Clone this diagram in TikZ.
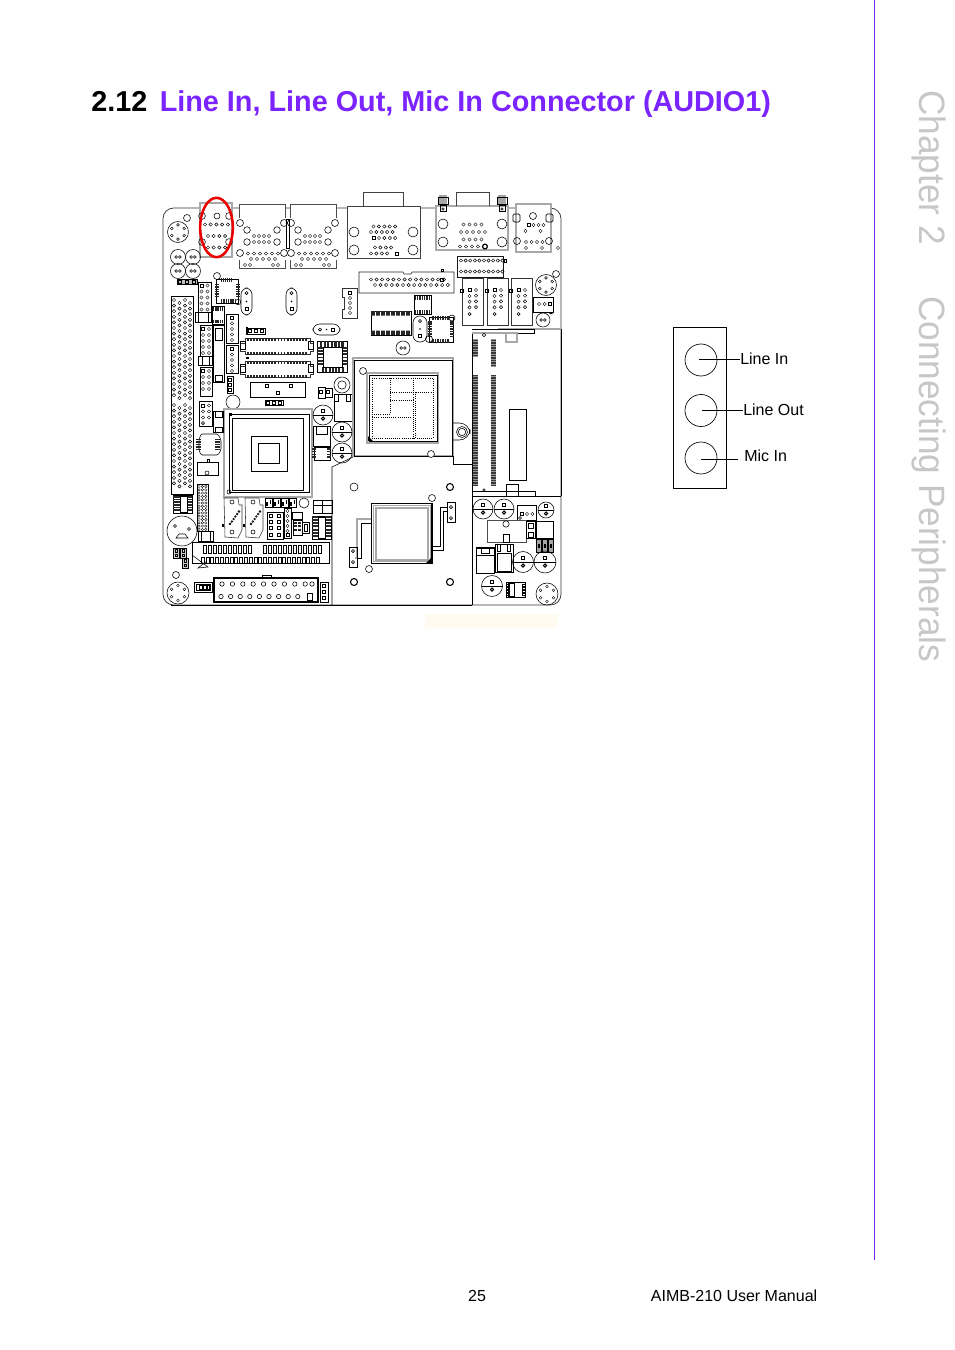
\documentclass[tikz,border=0pt]{standalone}
\usepackage{fontspec}
\usetikzlibrary{shapes.geometric}
\setmainfont{Liberation Sans}
\definecolor{ttl}{HTML}{7B24FF}
\definecolor{cream}{HTML}{FFFBF0}
\definecolor{lg}{HTML}{A8A8A8}
\newcommand\rr[4]{\draw ({#1},{#2}) rectangle ({#3},{#4});}
\newcommand\gr[4]{\draw[lg,line width=.9] ({#1},{#2}) rectangle ({#3},{#4});}
\newcommand\cc[3]{\draw ({#1},{#2}) circle (#3);}
\newcommand\prow[4]{\foreach \ii in {1,...,#4}{\draw[line width=.33pt] ({#1+(\ii-1)*#3},{#2}) circle (1.65);}}
\newcommand\pcol[4]{\foreach \ii in {1,...,#4}{\draw[line width=.33pt] ({#1},{#2+(\ii-1)*#3}) circle (1.65);}}
\newcommand\sq[2]{\draw[line width=.33pt] ({#1-1.7},{#2-1.7}) rectangle ({#1+1.7},{#2+1.7});}
\newcommand\hdr[5]{\sq{#1}{#2}\pcol{#1}{#2+#4}{#4}{\numexpr#5-1\relax}\pcol{#1+#3}{#2}{#4}{#5}}
\newcommand\din[3]{\draw (#1,#2) circle (#3);\foreach \a in {30,90,...,330}{\draw[line width=.33pt] (#1,#2) ++(\a:#3*.68) circle (1.4);}}
\newcommand\ecap[3]{\draw (#1,#2) circle (#3);\draw ({#1-#3},#2) -- ({#1+#3},#2);\draw ({#1-1.4},{#2-5.5}) rectangle ({#1+1.4},{#2-2.5});\draw[line width=.7] (#1,{#2+3.5}) circle (1.6);}
\newcommand\scap[3]{\draw (#1,#2) circle (#3);\draw[line width=.4pt] ({#1-1.8},#2) circle (1.4) ({#1+1.8},#2) circle (1.4);}
\newcommand\xtal[4]{\draw[rounded corners=5] (#1,#2) rectangle (#3,#4);\fill ({(#1+#3)/2},{(#2+#4)/2}) circle (.8);\cc{(#1+#3)/2}{#2+5}{1.6}\sq{(#1+#3)/2}{#4-6}}
\newcommand\teeth[5]{\foreach \ii in {0,...,#5}{\fill[black!85] ({#1+\ii*(#3-#1)/(#5+1)},#2) rectangle ({#1+(\ii+.62)*(#3-#1)/(#5+1)},#4);}}
\newcommand\steeth[5]{\foreach \ii in {0,...,#5}{\fill[black!85] (#1,{#2+\ii*(#4-#2)/(#5+1)}) rectangle (#3,{#2+(\ii+.62)*(#4-#2)/(#5+1)});}}
\begin{document}
\begin{tikzpicture}[x=.75pt,y=-.75pt,line width=.4pt,
  board/.style={line width=.42pt},
  jack/.style={circle,draw,line width=.5pt,minimum size=24pt,inner sep=0pt},
  lbl/.style={font=\fontsize{12}{14}\selectfont,inner sep=0pt,anchor=west},
  lead/.style={line width=.5pt}]
\useasboundingbox (0,0) rectangle (954,1350);
\fill[white] (0,0) rectangle (954,1350);
% page furniture
\draw[ttl,line width=.75pt] (874.5,0) -- (874.5,1260);
\node[anchor=base west,inner sep=0pt,font=\fontsize{21.6}{26}\selectfont\bfseries] (num) at (91,111) {2.12};
\node[anchor=base west,inner sep=0pt,font=\fontsize{21.6}{26}\selectfont\bfseries,text=ttl] (ttlx) at (159.5,111) {Line In, Line Out, Mic In Connector (AUDIO1)};
\node[anchor=base west,inner sep=0pt,rotate=-90,font=\fontsize{27.5}{32}\selectfont,text=black!22] (ch) at (919,90) {\scalebox{.96}[1]{Chapter 2}};
\node[anchor=base west,inner sep=0pt,rotate=-90,font=\fontsize{27.5}{32}\selectfont,text=black!22] (cp) at (919,296) {\scalebox{.96}[1]{Connecting Peripherals}};
\node[anchor=base,inner sep=0pt,font=\fontsize{12}{14}\selectfont] (pg) at (477,1301) {25};
\node[anchor=base east,inner sep=0pt,font=\fontsize{12}{14}\selectfont] (mn) at (817.5,1301) {AIMB-210 User Manual};
\fill[cream] (425,614) rectangle (558,628);

\begin{scope}[board]
% board outline
\draw[line width=.55pt,black!80,rounded corners=8] (163,208) rectangle (561,605);
\fill[white] (200,203) rectangle (232,257) (239,204) rectangle (285,268) (290,204) rectangle (337,268);
% ---- audio
\gr{200}{203}{232}{257}
\cc{202}{216}{3.4}\cc{229}{216}{3.4}\cc{217}{216}{3}\cc{202}{242}{3.4}\cc{229}{242}{3.4}
\prow{205}{224.5}{5.7}{5}\prow{208}{236}{5.7}{4}\prow{208}{247.5}{5.7}{4}
% ---- LAN
\foreach \dx in {0,51}{
 \begin{scope}[xshift=\dx*.75pt]
 \draw[black!70] (239,218) -- (239,204) -- (285,204) -- (285,218) (239,260) -- (239,268) -- (285,268) -- (285,260);
 \cc{240}{223}{3.5}\cc{284}{223}{3.5}\cc{240}{253}{3.5}\cc{284}{253}{3.5}
 \cc{247}{230}{3.3}\cc{277}{230}{3.3}\cc{247}{242}{3.3}\cc{277}{242}{3.3}
 \prow{254}{236}{5}{4}\prow{254}{242}{5}{4}
 \prow{248}{253.5}{6}{6}\prow{251}{259}{6}{5}
 \prow{245}{265}{5}{2}\prow{273}{265}{5}{2}
 \end{scope}}
\rr{286}{219}{289}{248}
% ---- VGA
\fill[white] (347,206) rectangle (420,258) (363,192) rectangle (403,206);
\draw[black!75] (347,258) rectangle (420,206);
\draw[black!75] (363,206) -- (363,192) -- (403,192) -- (403,206);
\cc{354}{232}{5}\cc{413}{232}{5}\cc{354}{250}{5}\cc{413}{250}{5}
\prow{373.5}{226.5}{5.4}{5}\prow{371}{232}{5.4}{5}\sq{373.5}{238}\prow{379}{238}{5.4}{4}
\prow{375}{247.5}{5.4}{4}\prow{371}{253.5}{5.4}{4}\sq{396.5}{253.5}
% ---- COM
\fill[white] (436,206) rectangle (508,250) (456,192) rectangle (489,206);
\gr{436}{206}{508}{250}
\draw[black!75] (456,206) -- (456,192) -- (489,192) -- (489,206);
\foreach \xx in {443,502}{\fill[black!35] (\xx-4,195) rectangle (\xx+4,205);\draw (\xx-5,197) rectangle (\xx+5,204);\rr{\xx-3}{205}{\xx+3}{211}\cc{\xx}{209}{1.2}}
\cc{443}{224}{5}\cc{502}{224}{5}\cc{443}{242}{5}\cc{502}{242}{5}
\prow{463.5}{224.5}{6}{4}\prow{461}{232}{6}{5}\prow{463.5}{239.5}{6}{4}\prow{460}{246.5}{6}{4}
\draw[line width=.9] (485,246.5) circle (2.4);
% ---- right jack
\fill[white] (516,204) rectangle (551,252);
\gr{516}{204}{551}{252}
\cc{533}{216}{3.5}
\draw[line width=.6,rounded corners=1] (513,214) rectangle (520,222);\draw[line width=.6,rounded corners=1] (546,214) rectangle (553,222);
\cc{517}{241}{3.5}\cc{549}{241}{3.5}
\sq{529}{225}\prow{533.5}{225}{5}{3}\prow{525.5}{231}{15}{2}\prow{526}{242}{5.5}{4}\prow{526}{248}{16}{3}
% ---- left round / small caps
\din{178}{232}{10.5}\cc{187}{218}{3.5}
\scap{178}{257}{7.5}\scap{193}{257}{7.5}\scap{178}{271}{7.5}\scap{193}{271}{7.5}
\draw[fill=black!25] (177,279) rectangle (197,284);\foreach \xx in {180,187,194}{\sq{\xx}{281.5}}
% ---- left long connector
\rr{171}{296}{193}{494}
\foreach \yy in {0,...,17}{\prow{174}{300+\yy*5.6}{6}{1}\prow{179.5}{303+\yy*5.6}{6}{1}\prow{185}{300+\yy*5.6}{6}{1}\prow{190}{303+\yy*5.6}{6}{1}}
\foreach \yy in {0,...,14}{\prow{174}{405+\yy*5.6}{6}{1}\prow{179.5}{408+\yy*5.6}{6}{1}\prow{185}{405+\yy*5.6}{6}{1}\prow{190}{408+\yy*5.6}{6}{1}}
% ---- left column headers
\rr{198}{282}{211}{312}\hdr{201.5}{285.5}{6}{6}{5}
\draw[line width=.6] (195,312) rectangle (211,322);\rr{198}{312}{208}{322}
\rr{200}{325}{212}{356}\hdr{203}{329}{6}{6}{5}
\draw[line width=.6] (198,356) rectangle (212,365);\rr{202}{356}{209}{365}
\rr{200}{367}{212}{396}\hdr{203}{371}{6}{6}{4}
\rr{212}{306}{224}{324}\rr{213}{325}{224}{382}\rr{215}{328}{222}{340}\rr{215}{375}{222}{381}
\teeth{213}{307}{224}{311}{4}\teeth{213}{320}{224}{323}{4}
\draw[line width=.7] (226,314) rectangle (238,343);\sq{232}{318}\pcol{232}{323.5}{5.5}{4}
\draw[line width=.7] (226,345) rectangle (238,373);\sq{232}{349}\pcol{232}{354.5}{5.5}{4}
\rr{227}{376}{233}{393}\sq{230}{380}\sq{230}{385}\sq{230}{390}
% ---- chip1
\rr{216}{279}{238}{303}
\cc{217}{276}{3.5}\cc{238}{302}{2.8}
\teeth{221}{278}{233}{282}{5}\teeth{221}{299}{237}{303}{6}
\steeth{215}{284}{219}{298}{5}\steeth{236}{284}{240}{298}{5}
\xtal{241}{288}{252}{315}\xtal{286}{288}{297}{315}
% ---- connector
\draw[black!80] (342,288) -- (357,288) -- (357,318) -- (342,318) -- (342,309) -- (344,309) -- (344,297) -- (342,297) -- cycle;
\sq{350}{292.5}\pcol{350}{298}{5}{4}
% ---- horizontal oval
\draw[rounded corners=5] (313,324) rectangle (340,335);\fill (326.5,329.5) circle (.8);\cc{320}{329.5}{1.6}\sq{333}{329.5}
\rr{247}{328}{265}{334}\foreach \xx in {250,256,262}{\sq{\xx}{331}}\fill (246,327) rectangle (248,335);
% ---- sockets
\foreach \yy in {0,23}{
\begin{scope}[yshift=-\yy*.75pt]
\draw[black!80] (245,338) -- (310,338) -- (310,343) -- (313,343) -- (313,351) -- (310,351) -- (310,354) -- (245,354) -- (245,351) -- (240,351) -- (240,343) -- (245,343) -- cycle;
\rr{240}{341}{245}{349}\rr{308}{341}{313}{349}
\teeth{247}{337.5}{308}{341}{19}\teeth{247}{351.5}{308}{355}{19}
\end{scope}}
\fill (246,357) rectangle (249,359);
\rr{250}{382}{305}{397}\rr{265}{384}{268}{387}\rr{289}{384}{292}{387}\rr{276}{391}{279}{394}
\rr{265}{400}{283}{405}\foreach \xx in {268,274,280}{\sq{\xx}{402.5}}
% ---- chip2
\draw (317,341) rectangle (347,372);
\teeth{320}{341}{345}{347}{6}\teeth{322}{367}{345}{372}{6}
\steeth{317}{347}{323}{366}{5}\steeth{342}{347}{348}{366}{5}
\rr{323}{347}{342}{367}
% ---- crystal can
\cc{342}{385}{8}\cc{342}{385}{4.2}
\rr{334}{394}{354}{421}\rr{334}{394}{338}{401}\rr{346}{394}{350}{401}
\rr{318}{387}{325}{398}\rr{325}{388}{332}{397}\sq{321}{392}\sq{328}{392}
% ---- IDC etc
\draw[black!85] (359,272) -- (403,272) -- (404,274) -- (411,274) -- (412,272) -- (454,272) -- (454,293) -- (359,293) -- cycle;
\prow{371}{279.5}{5.6}{14}\prow{375}{285}{5.6}{14}\sq{442}{279.5}
\rr{441}{269}{443}{271}
\draw[black!90] (457,256) rectangle (503,277);\prow{461}{260.5}{4.6}{10}\prow{461}{271.5}{4.6}{10}\rr{504}{259}{506}{262}
\foreach \xx in {462,487,511}{
\draw[black!80] (\xx,278) rectangle (\xx+21.5,325);
\sq{\xx+7.5}{290}\pcol{\xx+7.5}{296}{5.7}{3}\pcol{\xx+14}{290}{5.7}{4}\cc{\xx+7.5}{314}{1.6}
\rr{\xx-1.5}{289}{\xx+1}{292}}
% ---- black chip row
\rr{371}{311}{411}{335}\fill[black!85] (371,311) rectangle (411,315.5) (371,330.5) rectangle (411,335);
\foreach \xx in {375,380,...,410}{\fill[white] (\xx,311.5) rectangle (\xx+.7,335);}
\fill[white] (372,316) rectangle (410,330);
\rr{414}{295}{431}{314}\teeth{414.5}{295.5}{431}{300}{6}\teeth{414.5}{310}{431}{314}{6}
\xtal{413}{316}{427}{342}
\rr{429}{317}{453}{342}
\teeth{432}{316}{450}{320}{6}\teeth{432}{339}{450}{343}{6}
\steeth{428}{321}{432}{338}{6}\steeth{450}{321}{454}{338}{6}
\cc{452}{318}{3}\cc{429}{339}{3.5}
\scap{403}{348}{7}
% ---- right of upper
\din{546}{285}{10.5}\cc{556}{274}{3.5}
\rr{533}{297}{553}{312}\prow{539}{304}{5.5}{2}\sq{550}{304}\fill (551,312) -- (553,314) -- (549,314) -- cycle;
\scap{543}{320}{7}
% ---- SODIMM
\draw[lg,line width=.9] (498,329) -- (561,329);
\draw (472,333) -- (472,496) -- (561,496) (561,329) -- (561,496);
\draw[line width=.5] (472,329) -- (534,329) -- (534,333) -- (517,333);
\draw[lg,line width=.9] (472,333) -- (506,333);
\draw[lg,line width=.9] (506,333) -- (506,342) -- (517,342) -- (517,333) -- cycle;
\cc{484}{335}{1.8}
\foreach \xs/\ya/\yb/\yc/\yd in {472.5/339/357/375/486,491/339/367/375/486}{
 \fill[black!78] (\xs,\ya) rectangle (\xs+5,\yd);
 \foreach \yy in {339,341.5,...,486}{\draw[black!40,line width=.25pt] (\xs,\yy) -- (\xs+5,\yy);}
 \fill[white] (\xs,\yb) rectangle (\xs+5,\yc);}
\rr{509}{409}{526}{480}
\rr{506}{484}{518}{496}
\draw[line width=.5] (472,491) -- (535,491) -- (535,496);
\cc{484}{490}{1.3}
% ---- north bridge
\gr{353}{358}{453}{456}
\rr{354}{360}{452}{456}
\gr{367}{373}{438}{443}
\draw[line width=.5] (369,375) rectangle (437,441);
\draw[densely dotted,line width=.6] (372,378) rectangle (433,438);
\draw[densely dotted,line width=.6] (390,378) -- (390,414) -- (372,414) (390,400) -- (413,400) -- (413,378) (390,392) -- (433,392)
 (372,417) -- (413,417) -- (413,438) (413,400) -- (413,417) (415,392) -- (415,438);
\fill (368,441) -- (373,441) -- (368,436) -- cycle;
\cc{363}{371}{3.5}\fill[white] (431,454) circle (3.5);\cc{431}{454}{3.5}
\draw[rounded corners=8] (453,423) -- (470,423) -- (470,440) -- (453,440);
\cc{462}{432}{5.5}\cc{462}{432}{3.7}
\draw (453,456) -- (453,464) -- (472,464);
% ---- lower bay
\draw (332,605) -- (332,467) -- (353,457);
\draw (472,496) -- (472,605);
\draw[line width=.55pt] (171,605) -- (472,605);
\draw[line width=.8] (450,487) circle (3.5) (450,582) circle (3.5) (354,582) circle (3.5);
\cc{354}{487}{4}
\cc{432}{498}{3.5}\fill[white] (369,569) circle (3.5);\cc{369}{569}{3.5}
\draw[line width=.6] (371,503) rectangle (432,563);
\draw[lg,line width=.9] (376,508) rectangle (428,560);
\draw[lg,line width=.7] (373,505) rectangle (430,561);
\draw[line width=.7] (431,503) -- (431,563) -- (372,563);
\fill (426,563) -- (431,563) -- (431,558) -- cycle;
\draw[lg,line width=.8] (371,519) -- (357,519) -- (357,558) -- (355,558);
\draw (371,523) -- (361,523) -- (361,558) -- (357,558);
\draw[line width=.7] (432,550) -- (443,550) -- (443,511) -- (447,511);
\draw (432,546) -- (440,546) -- (440,507) -- (447,507);
\rr{349}{547}{357}{567}\cc{353}{551}{1.6}\cc{353}{562}{1.6}
\rr{447}{502}{455}{522}\cc{451}{507}{1.6}\cc{451}{518}{1.6}
% ---- lower right
\ecap{483}{509}{10}\ecap{504}{509}{10}
\rr{517}{505}{536}{520}\sq{522}{514}\prow{527}{514}{5.5}{2}\cc{520}{518}{1.5}
\ecap{546}{510}{8}
\draw[black!70,fill=white] (487,520) rectangle (526,542);\cc{506}{524}{3.2}\rr{503}{534}{509}{542}
\rr{526}{521}{535}{538}\rr{528}{523}{533}{528}\rr{528}{532}{533}{537}
\draw[line width=.6] (536,521) rectangle (553,538);
\foreach \xx in {536,542,548}{\draw[fill=black!35] (\xx,539) rectangle (\xx+5.5,552);\fill (\xx+1.7,543.5) rectangle (\xx+3.7,547.5);}
\draw[line width=.6] (476,547) rectangle (494,573);\rr{476}{548}{494}{555}\rr{481}{548}{489}{553}
\draw[line width=.6] (495,544) rectangle (513,572);\rr{497}{544}{500}{551}\rr{507}{544}{510}{551}\rr{497}{553}{511}{571}
\ecap{523}{562}{10.5}\ecap{545}{562}{11}\ecap{492}{586}{10.5}
\rr{506}{582}{525}{597}\rr{508}{583}{514}{596}\foreach \yy in {584,587,590,593}{\rr{506}{\yy}{509}{\yy+1.8}\rr{522}{\yy}{525}{\yy+1.8}}
\din{547}{594}{11}
% ---- CPU
\cc{233}{402}{7}
\fill[white] (224,409) rectangle (312,497);
\gr{224}{409}{312}{497}
\rr{229}{414}{309}{492}
\draw[line width=.7] (232,418) rectangle (303,490);
\rr{251}{436}{287}{471}\rr{258}{443}{279}{463}
\fill (229,413) rectangle (232,416);
\cc{229}{492}{2}
\ecap{323}{415}{10}\ecap{342}{432}{10}\ecap{342}{453}{10}
\rr{313}{426}{330}{446}\rr{316}{426}{327}{434}
\rr{314}{447}{330}{460}\steeth{312}{448}{316}{459}{3}\steeth{327}{448}{331}{459}{3}
\rr{199}{401}{212}{426}\hdr{203}{405.5}{6}{6}{3}\cc{203}{423}{1.6}
\rr{213}{411}{223}{432}\rr{215}{411}{222}{417}\rr{215}{427}{222}{432}
% ---- small chips left
\draw[rounded corners=1] (201,434) -- (218,434) -- (221,440) -- (221,450) -- (218,455) -- (201,455) -- (199,450) -- (199,440) -- cycle;
\steeth{196}{439}{201}{451}{4}\steeth{215}{439}{220}{451}{4}
\rr{197}{462}{218}{475}\rr{207}{459}{209}{462}\cc{207}{473}{2}
% ---- bottom left
\rr{173}{495}{192}{513}\steeth{173}{496}{180}{512}{5}\steeth{187}{496}{192}{512}{5}\rr{180}{496}{187}{512}
\rr{197}{484}{208}{531}
\foreach \yy in {0,...,13}{\foreach \qq in {0,1,2}{\draw[line width=.25pt] (199+\qq*3.4,486.5+\yy*3.3) circle (1.25);}}
\draw (182,531) circle (15);\cc{175}{526}{1.5}\cc{189}{529}{1.5}
\draw (176,538) -- (188,538) -- (185,534) -- (179,534) -- cycle;
\rr{198}{531}{213}{541}\rr{201}{531}{210}{541}
\foreach \xx/\yy in {173/548,180/548,182/558}{\draw[fill=black!20] (\xx,\yy) rectangle (\xx+6.5,\yy+10);\rr{\xx+2}{\yy+1.5}{\xx+4.5}{\yy+4}\rr{\xx+2}{\yy+6}{\xx+4.5}{\yy+8.5}}
\cc{176}{575}{3.5}\din{178}{593}{11}
\rr{194}{582}{212}{592}\rr{196}{584}{210}{590}\rr{199}{585}{202}{589}\rr{203}{585}{206}{589}
\draw (207,585) rectangle (209,589);
% ---- PCI slot
\rr{192}{542}{329}{563}
\foreach \xx in {203,208,...,248}{\rr{\xx}{545}{\xx+2.8}{553}}
\foreach \xx in {263,268,...,318}{\rr{\xx}{545}{\xx+2.8}{553}}
\foreach \xx in {201,205.8,...,320}{\rr{\xx}{557}{\xx+3}{563}}
\draw (192,555) -- (208,567) -- (198,568) -- (207,561);
% ---- ATX
\draw[line width=.8] (214,578) rectangle (318,602);
\rr{262}{575}{271}{578}
\foreach \ii in {0,...,8}{\cc{222+\ii*10.4}{584}{2.2}}
\foreach \ii in {0,...,8}{\cc{221+\ii*9.6}{596.5}{2.2}}
\rr{307}{593.5}{312}{600}\cc{312}{584}{2.2}
\rr{320}{582}{328}{602}\sq{324}{586}\sq{324}{592}\sq{324}{598}
% ---- under CPU
\foreach \xx in {224,245}{
\draw[black!80] (\xx,498) -- (\xx+14,498) -- (\xx+15,505) -- (\xx+18,505) -- (\xx+18,530) -- (\xx+14,538) -- (\xx+1,537) -- cycle;
\cc{\xx+8}{502}{2}\cc{\xx+8}{532}{2}
\foreach \ii in {0,...,5}{\cc{\xx+6+\ii*1.8}{524-\ii*2.5}{.9}}
\fill (\xx-2,524) rectangle (\xx,527);}
\foreach \xx in {265,273,281,289}{\rr{\xx}{498}{\xx+7.5}{507}\fill (\xx+1,502) rectangle (\xx+2.5,506);\fill (\xx+4.5,500) rectangle (\xx+6,504);}
\foreach \cx in {271,279}{\foreach \cy in {516,522,528}{\sq{\cx}{\cy}}\sq{\cx}{535}}
\rr{267}{512}{283}{539}
\rr{284}{508}{291}{538}\pcol{287.5}{511}{5}{5}\sq{287.5}{535}
\rr{292}{512}{302}{519}\rr{293}{520}{302}{535}\steeth{294}{522}{297}{532}{2}\steeth{298}{522}{301}{532}{2}
\rr{302}{522}{309}{533}\rr{304}{524}{307}{531}
\cc{304}{503}{5}
\rr{313}{500}{322}{513}\rr{322}{500}{332}{513}\rr{313}{505}{332}{513}
\rr{312}{516}{331}{539}\steeth{312}{516}{318}{538}{6}\steeth{325}{516}{331}{538}{6}\rr{318}{517}{325}{538}
\end{scope}
% ---- red marker
\node[draw={rgb,255:red,235;green,0;blue,0},line width=1.9pt,ellipse,minimum width=24.5pt,minimum height=44.5pt,inner sep=0pt] (mark) at (216.5,227.5) {};
% ---- audio legend
\node[draw,line width=.5pt,minimum width=39.5pt,minimum height=121pt,inner sep=0pt] (panel) at (700,408) {};
\node[jack] (j1) at (701,360) {};
\node[jack] (j2) at (701,410.5) {};
\node[jack] (j3) at (701,458) {};
\node[lbl] (l1) at (740,359) {Line In};
\node[lbl] (l2) at (743,410) {Line Out};
\node[lbl] (l3) at (744,456) {Mic In};
\coordinate (a1) at (699,359);
\coordinate (a2) at (702,410);
\coordinate (a3) at (701,459);
\coordinate (b3) at (738,459);
\draw[lead] (a1) -- (l1.west);
\draw[lead] (a2) -- (l2.west);
\draw[lead] (a3) -- (b3);
\end{tikzpicture}
\end{document}
